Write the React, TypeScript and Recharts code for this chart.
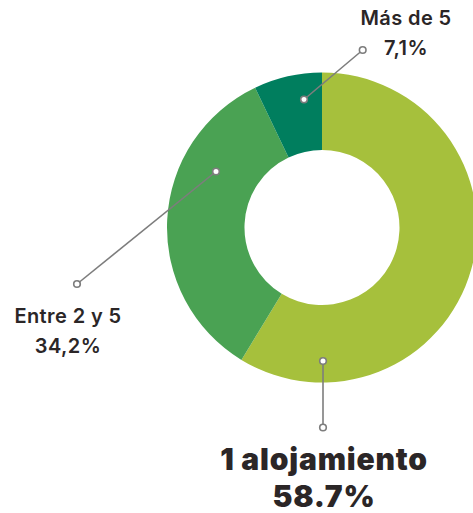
import { PieChart, Pie, Cell } from 'recharts'

const categories = ['1 alojamiento', 'Entre 2 y 5', 'Más de 5']
const shares = [58.7, 34.2, 7.1]
const shareLabels = ['58.7%', '34,2%', '7,1%']
const colors = ['#a6c03c', '#4aa253', '#007e5e']

// leader line + text placement, relative to the donut centre
const layout = [
  { p1: [1, 133.5], p2: [1, 200], tx: 2, ty: 242, size: 30, weight: 900, gap: 37, ls: 0.8 },
  { p1: [-106, -56], p2: [-245, 56.5], tx: -254, ty: 95.5, size: 20, weight: 600, gap: 30, ls: 0.4 },
  { p1: [-18, -128], p2: [40.7, -177.5], tx: 84, ty: -202.5, size: 20, weight: 600, gap: 30, ls: 0.4 },
]

const data = categories.map((name, i) => ({ name, value: shares[i], pct: shareLabels[i] }))

function renderLabel(props: any) {
  const { cx, cy, index } = props
  const l = layout[index]
  const x1 = cx + l.p1[0], y1 = cy + l.p1[1]
  const x2 = cx + l.p2[0], y2 = cy + l.p2[1]
  return (
    <g key={'lbl' + index}>
      <line x1={x1} y1={y1} x2={x2} y2={y2} stroke="#7d7d7d" strokeWidth={1.6} />
      <circle cx={x1} cy={y1} r={3.3} fill="#fff" stroke="#7d7d7d" strokeWidth={1.6} />
      <circle cx={x2} cy={y2} r={3.3} fill="#fff" stroke="#7d7d7d" strokeWidth={1.6} />
      <text x={cx + l.tx} y={cy + l.ty} textAnchor="middle" fill="#2b2627" letterSpacing={l.ls}
        fontFamily="Inter, sans-serif" fontSize={l.size} fontWeight={l.weight}>
        {categories[index]}
      </text>
      <text x={cx + l.tx} y={cy + l.ty + l.gap} textAnchor="middle" fill="#2b2627" letterSpacing={l.ls}
        fontFamily="Inter, sans-serif" fontSize={l.size} fontWeight={l.weight}>
        {shareLabels[index]}
      </text>
    </g>
  )
}

export default function App() {
  return (
    <div style={{ position: 'absolute', left: 0, top: 0, width: 473, height: 513, background: '#fff' }}>
      <PieChart width={473} height={513} margin={{ top: 0, right: 0, bottom: 0, left: 0 }}>
        <Pie data={data} dataKey="value" nameKey="name" cx={322} cy={227.5}
          innerRadius={77.5} outerRadius={155} startAngle={90} endAngle={-270}
          stroke="none" label={renderLabel} labelLine={false} isAnimationActive={false}>
          {data.map((d, i) => <Cell key={d.name} fill={colors[i]} />)}
        </Pie>
      </PieChart>
    </div>
  )
}
